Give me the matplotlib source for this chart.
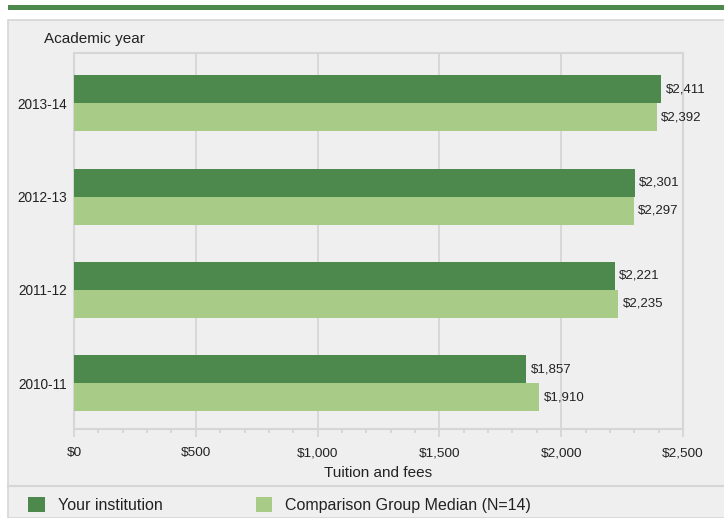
import numpy as np
import matplotlib.pyplot as plt
from matplotlib.patches import Rectangle, Patch
from matplotlib.ticker import MultipleLocator, FuncFormatter

plt.rcParams['font.family'] = ['Liberation Sans', 'DejaVu Sans']

# data
years = ['2013-14', '2012-13', '2011-12', '2010-11']
your_institution = [2411, 2301, 2221, 1857]
comparison_median = [2392, 2297, 2235, 1910]
series_labels = ['Your institution', 'Comparison Group Median (N=14)']

DARK = '#4d884d'
LIGHT = '#a9cb88'
PANEL = '#efefef'
EDGE = '#d6d6d6'

W, H = 724, 518
fig = plt.figure(figsize=(W / 100, H / 100), dpi=100, facecolor='white')

# panel background + header bar
fig.patches.append(Rectangle((8 / W, 0), 1, (H - 20) / H, transform=fig.transFigure,
                             facecolor=PANEL, edgecolor=EDGE, linewidth=1.2, zorder=-2))
fig.patches.append(Rectangle((8 / W, (H - 10) / H), 1, 5 / H, transform=fig.transFigure,
                             facecolor=DARK, edgecolor='none', zorder=-1))
fig.add_artist(plt.Line2D([8 / W, 1], [(H - 486) / H] * 2, transform=fig.transFigure,
                          color=EDGE, linewidth=1.5, zorder=-1))

ax = fig.add_axes([74 / W, (H - 429) / H, (683 - 74) / W, (429 - 53) / H])
ax.set_zorder(2)
ax.set_facecolor(PANEL)

y = np.arange(len(years))
bh = 0.3
ax.barh(y - bh / 2, your_institution, height=bh, color=DARK, zorder=3)
ax.barh(y + bh / 2, comparison_median, height=bh, color=LIGHT, zorder=3)

for yi, v in zip(y, your_institution):
    ax.annotate(f'${v:,}', (v, yi - bh / 2), xytext=(3, 0), textcoords='offset points',
                va='center', ha='left', fontsize=9.5, color='#222222', zorder=4)
for yi, v in zip(y, comparison_median):
    ax.annotate(f'${v:,}', (v, yi + bh / 2), xytext=(3, 0), textcoords='offset points',
                va='center', ha='left', fontsize=9.5, color='#222222', zorder=4)

ax.set_xlim(0, 2500)
ax.set_ylim(3.49, -0.54)
ax.set_yticks(y)
ax.set_yticklabels(years)
ax.xaxis.set_major_locator(MultipleLocator(500))
ax.xaxis.set_minor_locator(MultipleLocator(100))
ax.xaxis.set_major_formatter(FuncFormatter(lambda v, p: f'${v:,.0f}'))

ax.grid(True, axis='x', color=EDGE, linewidth=1.3, zorder=1)
ax.set_axisbelow(True)
for s in ax.spines.values():
    s.set_color(EDGE)
    s.set_linewidth(1.5)

ax.tick_params(axis='y', length=0, pad=5, labelsize=9.8, labelcolor='#222222')
ax.tick_params(axis='x', which='major', length=6, width=1.3, color=EDGE, pad=7,
               labelsize=9.7, labelcolor='#222222')
ax.tick_params(axis='x', which='minor', length=3, width=1.3, color=EDGE)

ax.set_xlabel('Tuition and fees', fontsize=11, color='#222222', labelpad=5)
fig.text(44 / W, (H - 39) / H, 'Academic year', fontsize=11, color='#222222',
         ha='left', va='center')

handles = [Patch(facecolor=DARK, edgecolor='none', label=series_labels[0]),
           Patch(facecolor=LIGHT, edgecolor='none', label=series_labels[1])]
fig.legend(handles=handles, loc='center left', bbox_to_anchor=(20 / W, (H - 505) / H),
           ncol=2, frameon=False, fontsize=11.5, handlelength=1.05, handleheight=1.05,
           handletextpad=0.8, columnspacing=5.85, borderpad=0, labelcolor='#222222')

fig.savefig('out.png', dpi=100, facecolor='white')
